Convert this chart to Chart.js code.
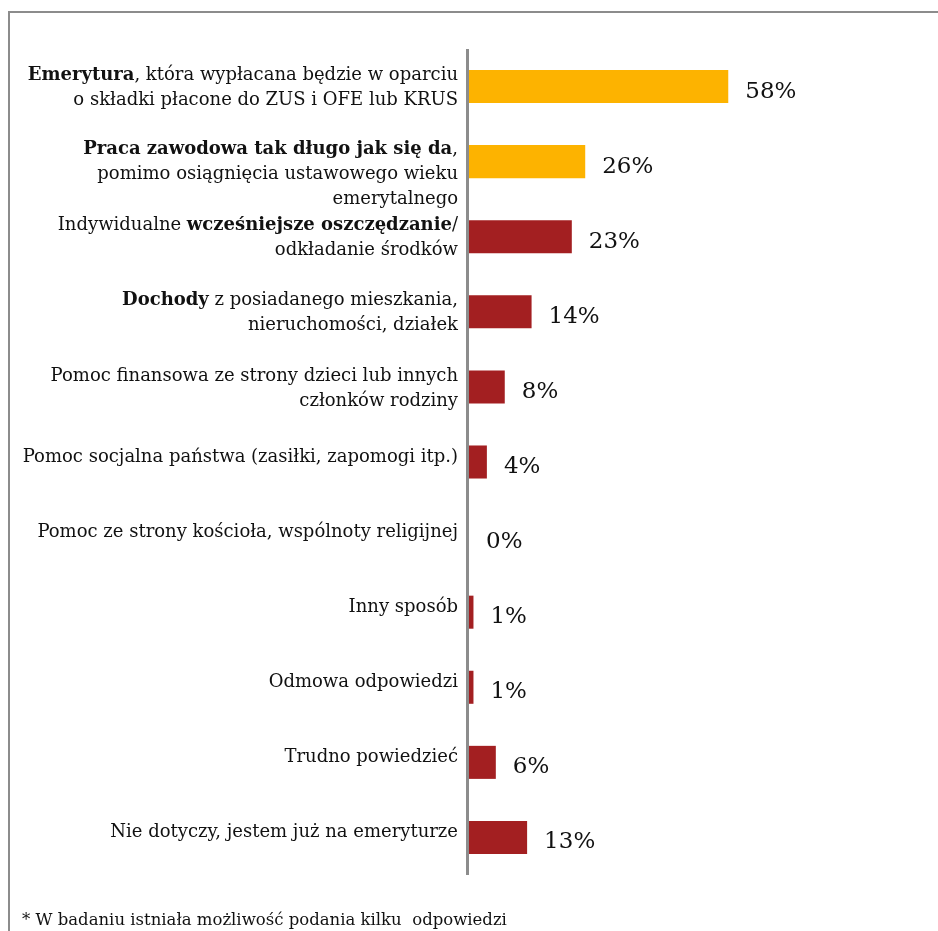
<!DOCTYPE html>
<html>
<head>
<meta charset="utf-8">
<script src="https://cdn.jsdelivr.net/npm/chart.js@4"></script>
<style>
  body { margin: 0; background: #fff; overflow: hidden; }
  #wrap { position: relative; width: 938px; height: 931px; }
  #frame { position: absolute; left: 8px; top: 11px; width: 960px; height: 960px; border: 2px solid #8c8c8c; box-sizing: border-box; }
  #note { position: absolute; left: 22px; top: 910px; font: 16.5px "DejaVu Serif", serif; color: #111; white-space: pre; }
  canvas { position: absolute; left: 0; top: 0; }
</style>
</head>
<body>
<div id="wrap">
  <div id="frame"></div>
  <canvas id="chart" width="938" height="931"></canvas>
  <div id="note">* W badaniu istniała możliwość podania kilku  odpowiedzi</div>
</div>
<script>
// ** marks bold fragments, | marks line breaks
const categories = [
  '**Emerytura**, która wypłacana będzie w oparciu|o składki płacone do ZUS i OFE lub KRUS',
  '**Praca zawodowa tak długo jak się da**,|pomimo osiągnięcia ustawowego wieku|emerytalnego',
  'Indywidualne **wcześniejsze oszczędzanie**/|odkładanie środków',
  '**Dochody** z posiadanego mieszkania,|nieruchomości, działek',
  'Pomoc finansowa ze strony dzieci lub innych|członków rodziny',
  'Pomoc socjalna państwa (zasiłki, zapomogi itp.)',
  'Pomoc ze strony kościoła, wspólnoty religijnej',
  'Inny sposób',
  'Odmowa odpowiedzi',
  'Trudno powiedzieć',
  'Nie dotyczy, jestem już na emeryturze'
];
const values = [58, 26, 23, 14, 8, 4, 0, 1, 1, 6, 13];
const barColors = ['#fdb300', '#fdb300', '#a31f21', '#a31f21', '#a31f21', '#a31f21',
  '#a31f21', '#a31f21', '#a31f21', '#a31f21', '#a31f21'];

const labelFont = 'DejaVu Serif';
const labelSize = 18;

const labelPlugin = {
  id: 'labels',
  afterDraw(chart) {
    const ctx = chart.ctx;
    const area = chart.chartArea;
    const y = chart.scales.y;
    const x = chart.scales.x;
    ctx.save();
    // axis line
    ctx.strokeStyle = '#8c8c8c';
    ctx.lineWidth = 3;
    ctx.beginPath();
    ctx.moveTo(area.left - 1.5, area.top);
    ctx.lineTo(area.left - 1.5, area.bottom);
    ctx.stroke();

    ctx.fillStyle = '#111';
    ctx.textBaseline = 'middle';
    categories.forEach((cat, i) => {
      const cy = y.getPixelForValue(i);
      const lines = cat.split('|');
      const startY = lines.length > 1 ? cy - 11 - (lines.length - 2) : cy - 5;
      lines.forEach((line, li) => {
        const parts = line.split('**');
        let total = 0;
        parts.forEach((p, pi) => {
          ctx.font = (pi % 2 ? 'bold ' : '') + labelSize + 'px "' + labelFont + '"';
          total += ctx.measureText(p).width;
        });
        let px = area.left - 11 - total;
        parts.forEach((p, pi) => {
          ctx.font = (pi % 2 ? 'bold ' : '') + labelSize + 'px "' + labelFont + '"';
          ctx.textAlign = 'left';
          ctx.fillText(p, px, startY + li * 25);
          px += ctx.measureText(p).width;
        });
      });
      // value label
      ctx.font = '23px "DejaVu Serif"';
      ctx.textAlign = 'left';
      ctx.fillText(values[i] + '%', x.getPixelForValue(values[i]) + 17, cy + 5);
    });
    ctx.restore();
  }
};

new Chart(document.getElementById('chart'), {
  type: 'bar',
  data: {
    labels: categories,
    datasets: [{
      data: values,
      backgroundColor: barColors,
      borderWidth: 0,
      barPercentage: 0.44,
      categoryPercentage: 1
    }]
  },
  options: {
    indexAxis: 'y',
    responsive: false,
    animation: false,
    layout: { padding: { left: 469, right: 22, top: 49, bottom: 56 } },
    plugins: { legend: { display: false }, tooltip: { enabled: false } },
    scales: {
      x: { display: false, min: 0, max: 100 },
      y: { display: false }
    }
  },
  plugins: [labelPlugin]
});
</script>
</body>
</html>
